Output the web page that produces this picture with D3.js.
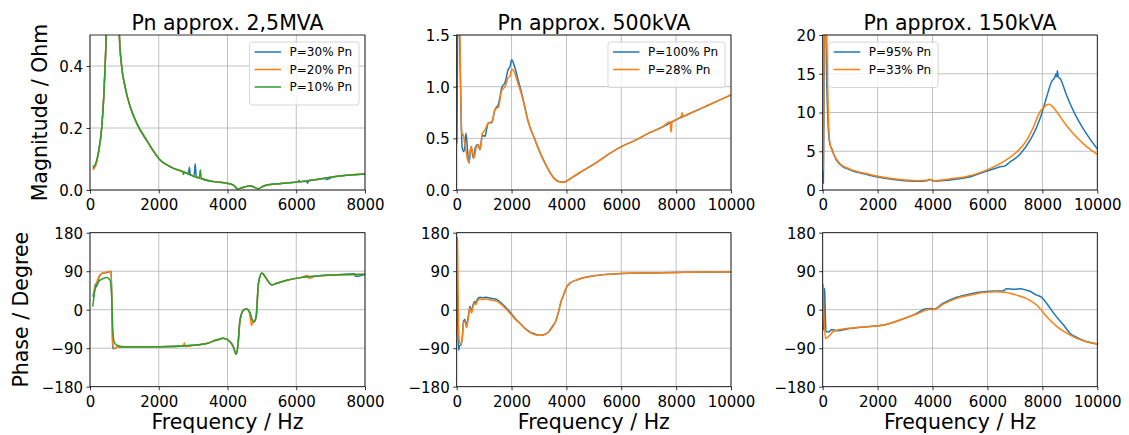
<!DOCTYPE html>
<html>
<head>
<meta charset="utf-8">
<script src="https://cdn.jsdelivr.net/npm/d3@7"></script>
<style>
  body { margin: 0; background: #fff; }
  svg { font-family: "DejaVu Sans", sans-serif; }
</style>
</head>
<body>
<div id="container"></div>
<script>

// ---- data ([frequency Hz, value]) ----

// Pn approx. 2,5MVA, magnitude (Ohm)
const mag25_p30 = [[80,0.07],[150,0.078],[240,0.117],[340,0.2],[400,0.3],[440,0.4],[470,0.5],[520,0.9],[600,2.0],[650,3.0],[700,2.0],[780,0.9],[854,0.5],[920,0.4],[1020,0.333],[1165,0.27],[1360,0.215],[1650,0.16],[2020,0.099],[2430,0.07],[2820,0.054],[2860,0.05],[2890,0.073],[2920,0.048],[3030,0.046],[3060,0.085],[3090,0.044],[3200,0.038],[3600,0.027],[3980,0.022],[4175,0.016],[4290,0.004],[4470,0.009],[4660,0.014],[4810,0.0075],[4890,0.004],[5050,0.013],[5250,0.018],[5630,0.0215],[6050,0.026],[6080,0.031],[6110,0.026],[6300,0.028],[6330,0.022],[6360,0.029],[6600,0.034],[6850,0.038],[6870,0.034],[7090,0.043],[8000,0.052]];
const mag25_p20 = [[80,0.065],[150,0.075],[240,0.115],[340,0.2],[400,0.3],[440,0.4],[470,0.5],[520,0.9],[600,2.0],[650,3.0],[700,2.0],[780,0.9],[854,0.5],[920,0.4],[1020,0.333],[1165,0.27],[1360,0.215],[1650,0.16],[2020,0.099],[2430,0.07],[2820,0.054],[3200,0.038],[3600,0.027],[3980,0.022],[4175,0.016],[4290,0.004],[4470,0.009],[4660,0.014],[4810,0.0075],[4890,0.004],[5050,0.013],[5250,0.018],[5630,0.0215],[6120,0.027],[6600,0.034],[7090,0.043],[8000,0.052]];
const mag25_p10 = [[80,0.075],[150,0.082],[240,0.118],[340,0.2],[400,0.3],[440,0.4],[470,0.5],[520,0.9],[600,2.0],[650,3.0],[700,2.0],[780,0.9],[854,0.5],[920,0.4],[1020,0.333],[1165,0.27],[1360,0.215],[1650,0.16],[2020,0.099],[2430,0.07],[2700,0.058],[2720,0.05],[2740,0.057],[2820,0.054],[3180,0.039],[3210,0.065],[3240,0.038],[3600,0.027],[3980,0.022],[4175,0.016],[4290,0.004],[4470,0.009],[4660,0.014],[4810,0.0075],[4890,0.004],[5050,0.013],[5250,0.018],[5630,0.0215],[6120,0.027],[6600,0.034],[7090,0.043],[8000,0.052]];

// Pn approx. 2,5MVA, phase (degree)
const ph25_p30 = [[90,30],[130,48],[160,60],[200,55],[260,75],[350,85],[500,87],[615,90],[640,0],[660,-90],[700,-91],[780,-88],[970,-87],[2036,-86.5],[3006,-83],[3394,-79],[3685,-71],[3879,-67],[4073,-75],[4170,-86.5],[4248,-104],[4300,-86],[4365,-24],[4465,-1],[4560,1.5],[4640,-5],[4718,-24],[4760,-30],[4776,-28],[4834,-16],[4900,61],[4998,86],[5095,77],[5290,58],[5437,62],[5728,69],[6116,75],[6602,79],[7087,81],[7700,84],[7720,78],[8000,82.6]];
const ph25_p20 = [[90,35],[140,50],[200,65],[280,80],[380,86],[500,88],[610,89],[630,40],[650,-50],[670,-85],[700,-91],[780,-88],[970,-87],[2036,-86.5],[2700,-85],[2750,-78],[2780,-86],[3006,-83],[3394,-79],[3685,-71],[3879,-67],[4073,-75],[4170,-86.5],[4248,-104],[4300,-86],[4365,-24],[4465,-1],[4560,1.5],[4640,-8],[4700,-37],[4740,-28],[4776,-28],[4834,-16],[4900,61],[4998,86],[5095,77],[5290,58],[5437,62],[5728,69],[6116,75],[6340,80],[6370,73],[6602,79],[7087,81],[8000,82.6]];
const ph25_p10 = [[80,7],[145,46],[242,65],[388,73],[485,75],[582,69],[630,30],[660,-40],[700,-75],[776,-83],[970,-86.5],[2036,-86.5],[3006,-83],[3394,-79],[3685,-71],[3879,-67],[4073,-75],[4170,-86.5],[4248,-104],[4300,-86],[4365,-24],[4465,-1],[4560,1.5],[4640,-5],[4718,-24],[4776,-28],[4834,-16],[4900,61],[4998,86],[5095,77],[5290,58],[5437,62],[5728,69],[6116,75],[6602,79],[7087,81],[8000,82.6]];

// Pn approx. 500kVA, magnitude (Ohm)
const mag500_p100 = [[5,0.45],[20,0.9],[35,1.7],[60,2.0],[100,1.6],[140,1.0],[170,0.6],[205,0.4],[266,0.37],[339,0.55],[390,0.4],[449,0.26],[522,0.42],[607,0.31],[692,0.42],[760,0.44],[850,0.39],[935,0.53],[1033,0.52],[1100,0.6],[1154,0.65],[1276,0.65],[1397,0.78],[1519,0.83],[1580,0.9],[1640,0.99],[1762,1.04],[1883,1.17],[1940,1.19],[2005,1.26],[2103,1.2],[2224,1.08],[2346,0.96],[2470,0.82],[2589,0.68],[2710,0.58],[2832,0.5],[2950,0.42],[3075,0.34],[3200,0.27],[3318,0.21],[3450,0.15],[3561,0.11],[3743,0.08],[3864,0.075],[4000,0.085],[4200,0.12],[4500,0.17],[5000,0.25],[5500,0.34],[6000,0.42],[6500,0.48],[7000,0.55],[7500,0.61],[8000,0.68],[8500,0.74],[9000,0.8],[9500,0.86],[10000,0.92]];
const mag500_p28 = [[5,1.8],[60,1.8],[100,1.7],[140,1.1],[175,0.6],[205,0.53],[240,0.54],[290,0.45],[328,0.4],[390,0.3],[449,0.27],[522,0.42],[570,0.38],[632,0.31],[720,0.42],[790,0.44],[850,0.39],[935,0.55],[1033,0.58],[1154,0.65],[1276,0.66],[1397,0.78],[1519,0.8],[1640,0.96],[1762,1.0],[1883,1.09],[1940,1.1],[2005,1.17],[2103,1.14],[2224,1.04],[2346,0.94],[2470,0.81],[2589,0.68],[2710,0.58],[2832,0.5],[2950,0.42],[3075,0.34],[3200,0.27],[3318,0.21],[3450,0.15],[3561,0.11],[3743,0.08],[3864,0.075],[4000,0.085],[4200,0.12],[4500,0.17],[5000,0.25],[5500,0.34],[6000,0.42],[6500,0.48],[7000,0.55],[7500,0.61],[7780,0.66],[7800,0.6],[7820,0.56],[7850,0.66],[8000,0.68],[8200,0.72],[8220,0.75],[8240,0.71],[8500,0.74],[9000,0.8],[9500,0.86],[10000,0.92]];

// Pn approx. 500kVA, phase (degree)
const ph500_p100 = [[10,90],[30,0],[50,-60],[73,-95],[100,-85],[150,-82],[200,-68],[250,-26],[300,-23],[360,-38],[420,-16],[485,8],[540,-4],[600,12],[650,19],[700,16],[750,24],[850,29],[950,28],[1050,29],[1150,28],[1300,26],[1450,24],[1640,15],[1883,-1],[2127,-20],[2300,-31],[2500,-44],[2700,-53],[2900,-58],[3050,-60],[3200,-58],[3350,-52],[3500,-38],[3600,-28],[3700,-8],[3800,18],[3900,35],[4000,52],[4150,63],[4400,70],[4700,76],[5000,79],[5350,82],[6000,84.5],[7000,86],[8000,87],[9000,88],[10000,88]];
const ph500_p28 = [[15,170],[30,160],[50,50],[70,-40],[100,-75],[150,-80],[200,-70],[250,-30],[300,-27],[360,-42],[420,-20],[485,4],[540,-8],[600,8],[650,15],[700,12],[750,20],[850,25],[950,24],[1050,25],[1150,24],[1300,22],[1450,20],[1640,12],[1883,-4],[2127,-22],[2300,-32],[2500,-45],[2700,-54],[2900,-59],[3050,-60],[3200,-58],[3350,-52],[3500,-40],[3600,-28],[3700,-8],[3800,18],[3900,35],[4000,52],[4150,63],[4400,70],[4700,76],[5000,79],[5350,82],[6000,84.5],[7000,86],[8000,87],[9000,88],[10000,88]];

// Pn approx. 150kVA, magnitude (Ohm)
const mag150_p95 = [[24,0.8],[45,10],[60,22],[110,22],[140,15],[180,10],[220,7],[270,5.8],[350,5.2],[400,4.6],[631,3.3],[995,2.6],[1602,2.0],[2209,1.55],[2816,1.25],[3422,1.12],[3800,1.2],[3900,1.35],[4000,1.2],[4200,1.15],[4636,1.3],[5243,1.6],[5850,2.3],[6300,2.8],[6456,3.0],[6600,3.05],[6820,3.6],[7184,4.6],[7549,6.4],[7791,8.1],[7973,9.8],[8155,12],[8337,14],[8459,14.6],[8500,15.0],[8530,14.6],[8544,15.4],[8580,14.6],[8641,14.4],[8883,12.2],[9187,9.8],[9490,7.9],[9733,6.6],[10000,5.3]];
const mag150_p33 = [[24,2.5],[40,12],[55,22],[120,22],[146,20],[206,9.4],[267,6],[388,4.7],[631,3.4],[995,2.7],[1602,2.1],[2209,1.64],[2816,1.34],[3422,1.2],[3800,1.25],[3900,1.4],[4000,1.25],[4100,1.2],[4636,1.43],[5243,1.73],[5850,2.4],[6456,3.4],[7063,4.9],[7427,6.4],[7670,8.1],[7913,10.1],[8034,10.6],[8216,11.06],[8337,10.9],[8519,10.1],[8883,8.3],[9248,6.8],[9612,5.6],[10000,4.6]];

// Pn approx. 150kVA, phase (degree)
const ph150_p95 = [[24,-48],[50,-10],[61,50],[75,40],[100,-20],[121,-51],[200,-52],[267,-50],[328,-46],[510,-49],[995,-44],[1602,-40],[2209,-36],[2816,-24],[3422,-8.6],[3726,1.6],[3969,3],[4029,1],[4393,15],[4879,29],[5364,37],[5850,42],[6335,43.6],[6560,43.6],[6700,49],[7000,48],[7184,49],[7400,46],[7550,43],[7791,34],[7950,30],[8155,15],[8300,2],[8459,-12],[8762,-35],[9005,-55],[9250,-65],[9490,-72],[10000,-80]];
const ph150_p33 = [[12,60],[40,0],[97,-67],[206,-63],[388,-51],[752,-45],[1602,-40],[2209,-36],[2816,-24],[3422,-10],[3908,1],[4029,0],[4393,13],[4879,26.5],[5364,34],[5850,40],[6335,42],[6699,40],[7063,34],[7427,26],[7791,11],[8155,-16],[8519,-39],[8883,-55],[9248,-67],[9612,-75],[10000,-80]];

// labels and ticks
const titles = ["Pn approx. 2,5MVA", "Pn approx. 500kVA", "Pn approx. 150kVA"];
const legend25 = ["P=30% Pn", "P=20% Pn", "P=10% Pn"];
const legend500 = ["P=100% Pn", "P=28% Pn"];
const legend150 = ["P=95% Pn", "P=33% Pn"];
const freqTicks8k = [0, 2000, 4000, 6000, 8000];
const freqTicks10k = [0, 2000, 4000, 6000, 8000, 10000];
const magTicks25 = [0, 0.2, 0.4];
const magTicks500 = [0, 0.5, 1.0, 1.5];
const magTicks150 = [0, 5, 10, 15, 20];
const phaseTicks = [-180, -90, 0, 90, 180];

// ---- layout ----
const width = 1129;
const height = 435;
const colors = ["#1f77b4", "#ff7f0e", "#2ca02c"];

const cols = [[90, 365], [456.7, 731], [822.7, 1097.3]];
const rows = [[35, 190], [232.7, 386.7]];

const panels = [
  {c: 0, r: 0, xMax: 8000, xTicks: freqTicks8k, yDom: [0, 0.5], yTicks: magTicks25, fmt: d3.format(".1f"),
   series: [mag25_p30, mag25_p20, mag25_p10], legend: legend25, legendSide: "right"},
  {c: 1, r: 0, xMax: 10000, xTicks: freqTicks10k, yDom: [0, 1.5], yTicks: magTicks500, fmt: d3.format(".1f"),
   series: [mag500_p100, mag500_p28], legend: legend500, legendSide: "right"},
  {c: 2, r: 0, xMax: 10000, xTicks: freqTicks10k, yDom: [0, 20], yTicks: magTicks150, fmt: d3.format("d"),
   series: [mag150_p95, mag150_p33], legend: legend150, legendSide: "left"},
  {c: 0, r: 1, xMax: 8000, xTicks: freqTicks8k, yDom: [-180, 180], yTicks: phaseTicks, fmt: d3.format("d"),
   series: [ph25_p30, ph25_p20, ph25_p10]},
  {c: 1, r: 1, xMax: 10000, xTicks: freqTicks10k, yDom: [-180, 180], yTicks: phaseTicks, fmt: d3.format("d"),
   series: [ph500_p100, ph500_p28]},
  {c: 2, r: 1, xMax: 10000, xTicks: freqTicks10k, yDom: [-180, 180], yTicks: phaseTicks, fmt: d3.format("d"),
   series: [ph150_p95, ph150_p33]}
];

const svg = d3.create("svg")
    .attr("width", width)
    .attr("height", height);

document.getElementById("container").append(svg.node());

panels.forEach((p, i) => {
  const [left, right] = cols[p.c];
  const [top, bottom] = rows[p.r];

  const x = d3.scaleLinear().domain([0, p.xMax]).range([left, right]);
  const y = d3.scaleLinear().domain(p.yDom).range([bottom, top]);

  const g = svg.append("g");

  // clip to the axes area
  g.append("clipPath")
      .attr("id", "clip" + i)
    .append("rect")
      .attr("x", left).attr("y", top)
      .attr("width", right - left).attr("height", bottom - top);

  // grid
  g.append("g").selectAll("line")
    .data(p.xTicks)
    .join("line")
      .attr("x1", d => x(d)).attr("x2", d => x(d))
      .attr("y1", top).attr("y2", bottom)
      .attr("stroke", "#b0b0b0").attr("stroke-width", 0.8);
  g.append("g").selectAll("line")
    .data(p.yTicks)
    .join("line")
      .attr("x1", left).attr("x2", right)
      .attr("y1", d => y(d)).attr("y2", d => y(d))
      .attr("stroke", "#b0b0b0").attr("stroke-width", 0.8);

  // lines
  const line = d3.line()
      .x(d => x(d[0]))
      .y(d => y(d[1]))
      .curve(d3.curveMonotoneX);

  g.append("g")
      .attr("clip-path", `url(#clip${i})`)
    .selectAll("path")
    .data(p.series)
    .join("path")
      .attr("d", line)
      .attr("fill", "none")
      .attr("stroke", (d, k) => colors[k])
      .attr("stroke-width", 1.5)
      .attr("stroke-linejoin", "round");

  // frame
  g.append("rect")
      .attr("x", left).attr("y", top)
      .attr("width", right - left).attr("height", bottom - top)
      .attr("fill", "none").attr("stroke", "#000").attr("stroke-width", 0.8);

  // axes
  const xAxis = g.append("g")
      .attr("transform", `translate(0,${bottom})`)
      .call(d3.axisBottom(x).tickValues(p.xTicks).tickFormat(d3.format("d")).tickSize(3.5).tickSizeOuter(0));
  xAxis.selectAll("text").attr("dy", null).attr("y", 20);

  const yAxis = g.append("g")
      .attr("transform", `translate(${left},0)`)
      .call(d3.axisLeft(y).tickValues(p.yTicks).tickFormat(p.fmt).tickSize(3.5).tickSizeOuter(0).tickPadding(3.5));
  yAxis.selectAll("text").attr("dy", "0.36em");

  [xAxis, yAxis].forEach(a => {
    a.select(".domain").remove();
    a.selectAll("line").attr("stroke", "#000").attr("stroke-width", 0.8);
    a.selectAll("text").attr("fill", "#000").attr("font-size", 15).attr("font-family", "DejaVu Sans");
  });

  // titles and x labels
  if (p.r === 0) {
    g.append("text")
        .attr("x", (left + right) / 2).attr("y", top - 5.5)
        .attr("text-anchor", "middle")
        .attr("font-size", 20.5)
        .text(titles[p.c]);
  } else {
    g.append("text")
        .attr("x", (left + right) / 2).attr("y", 429)
        .attr("text-anchor", "middle")
        .attr("font-size", 20.5)
        .text("Frequency / Hz");
  }

  // legend
  if (p.legend) {
    const lg = g.append("g");
    const box = lg.append("rect");
    const fs = 12;
    const rowH = 17.5;
    const items = lg.selectAll("g")
      .data(p.legend)
      .join("g");
    items.append("line")
        .attr("x1", 0).attr("x2", 26.5)
        .attr("y1", (d, k) => k * rowH).attr("y2", (d, k) => k * rowH)
        .attr("stroke", (d, k) => colors[k]).attr("stroke-width", 1.5);
    const texts = items.append("text")
        .attr("x", 35).attr("y", (d, k) => k * rowH)
        .attr("dy", "0.36em")
        .attr("font-size", fs)
        .text(d => d);
    const tw = d3.max(texts.nodes(), n => n.getComputedTextLength());
    const bw = 35 + tw + 12;
    const bh = (p.legend.length - 1) * rowH + 28;
    const bx = p.legendSide === "right" ? right - 6 - bw : left + 6;
    const by = top + 7;
    box.attr("x", -5).attr("y", -10).attr("width", bw).attr("height", bh)
        .attr("rx", 3)
        .attr("fill", "#fff").attr("fill-opacity", 0.8)
        .attr("stroke", "#cccccc").attr("stroke-width", 0.8);
    lg.attr("transform", `translate(${bx + 5},${by + 10})`);
  }
});

// y labels
svg.append("text")
    .attr("transform", `translate(47,${(rows[0][0] + rows[0][1]) / 2}) rotate(-90)`)
    .attr("text-anchor", "middle")
    .attr("font-size", 20.5)
    .text("Magnitude / Ohm");

svg.append("text")
    .attr("transform", `translate(28,${(rows[1][0] + rows[1][1]) / 2}) rotate(-90)`)
    .attr("text-anchor", "middle")
    .attr("font-size", 20.5)
    .text("Phase / Degree");

</script>
</body>
</html>
